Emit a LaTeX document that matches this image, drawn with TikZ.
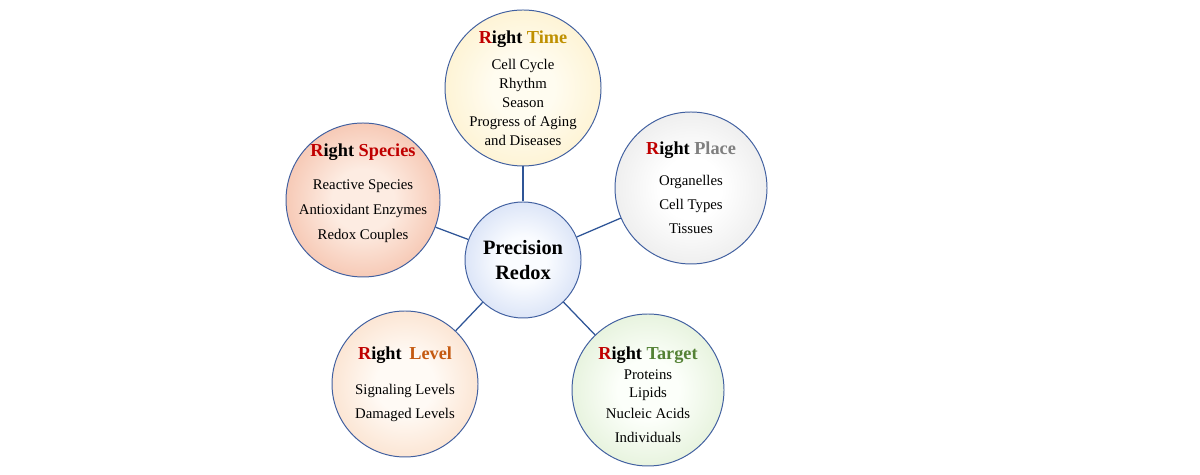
\documentclass[tikz,border=0pt]{standalone}
\usepackage{fontspec}
\setmainfont{Liberation Serif}
\usepackage{xcolor}
\usepackage{tikz}
\usetikzlibrary{positioning, calc}
\definecolor{ringblue}{RGB}{65, 96, 160}
\definecolor{linkblue}{RGB}{47, 85, 151}
\definecolor{rightred}{RGB}{192, 0, 0}
\definecolor{timegold}{RGB}{191, 144, 0}
\definecolor{speciesred}{RGB}{192, 0, 0}
\definecolor{placegray}{RGB}{127, 127, 127}
\definecolor{levelorange}{RGB}{197, 90, 17}
\definecolor{targetgreen}{RGB}{84, 130, 53}
\definecolor{timein}{RGB}{255, 252, 240}
\definecolor{timeout}{RGB}{252, 230, 170}
\definecolor{speciesin}{RGB}{253, 236, 226}
\definecolor{speciesout}{RGB}{236, 145, 110}
\definecolor{placein}{RGB}{255, 255, 255}
\definecolor{placeout}{RGB}{212, 212, 212}
\definecolor{redoxin}{RGB}{250, 252, 255}
\definecolor{redoxout}{RGB}{172, 192, 235}
\definecolor{levelin}{RGB}{255, 250, 245}
\definecolor{levelout}{RGB}{246, 196, 158}
\definecolor{targetin}{RGB}{252, 255, 250}
\definecolor{targetout}{RGB}{198, 224, 178}
\colorlet{ballin}{white}
\colorlet{ballout}{white}
\pgfdeclareradialshading[ballin,ballout]{ball}{\pgfpoint{0bp}{0bp}}{%
  color(0bp)=(ballin); color(10bp)=(ballin); color(50bp)=(ballout)}
\newcommand{\balltitle}[2]{{\fontsize{13}{15}\selectfont\bfseries\textcolor{rightred}{R}ight \textcolor{#1}{#2}}}

\begin{document}
\begin{tikzpicture}[
    ball/.style 2 args={circle, draw=ringblue, line width=0.7pt, inner sep=-20pt, align=center,
        shade, shading=ball, /utils/exec={\colorlet{ballin}{#1}\colorlet{ballout}{#2}}},
    link/.style={draw=linkblue, line width=0.9pt},
]
    \useasboundingbox (0, 0) rectangle (30, 11.875);

    % Hub
    \node[ball={redoxin}{redoxout}, minimum size=2.9cm, font=\fontsize{14.5}{17.8}\selectfont\bfseries]
        (redox) at (13.075, 5.375) {Precision\\Redox};

    % Satellites
    \node[ball={timein}{timeout}, minimum size=3.9cm, font=\fontsize{10.5}{13.5}\selectfont]
        (time) at (13.075, 9.675)
        {\balltitle{timegold}{Time}\\[5pt] Cell Cycle\\ Rhythm\\ Season\\ Progress of Aging\\ and Diseases};

    \node[ball={speciesin}{speciesout}, minimum size=3.85cm, font=\fontsize{10.5}{17.8}\selectfont]
        (species) at (9.075, 6.875)
        {\balltitle{speciesred}{Species}\\[5.5pt] Reactive Species\\ Antioxidant Enzymes\\ Redox Couples\\[-5.5pt]\mbox{}};

    \node[ball={placein}{placeout}, minimum size=3.8cm, font=\fontsize{10.5}{17}\selectfont]
        (place) at (17.275, 7.175)
        {\balltitle{placegray}{Place}\\[5pt] Organelles\\ Cell Types\\ Tissues};

    \node[ball={levelin}{levelout}, minimum size=3.65cm, font=\fontsize{10.5}{17}\selectfont]
        (level) at (10.125, 2.275)
        {\balltitle{levelorange}{\,Level}\\[8pt] Signaling Levels\\ Damaged Levels};

    \node[ball={targetin}{targetout}, minimum size=3.8cm, font=\fontsize{10.5}{13}\selectfont]
        (target) at (16.2, 2.125)
        {\mbox{}\\[2.5pt]\balltitle{targetgreen}{Target}\\[1pt] Proteins\\ Lipids\\[2pt] Nucleic Acids\\[4pt] Individuals};

    % Links
    \draw[link] (redox) -- (time);
    \draw[link] (redox) -- (species);
    \draw[link] (redox) -- (place);
    \draw[link] (redox) -- (level);
    \draw[link] (redox) -- (target);
\end{tikzpicture}
\end{document}
